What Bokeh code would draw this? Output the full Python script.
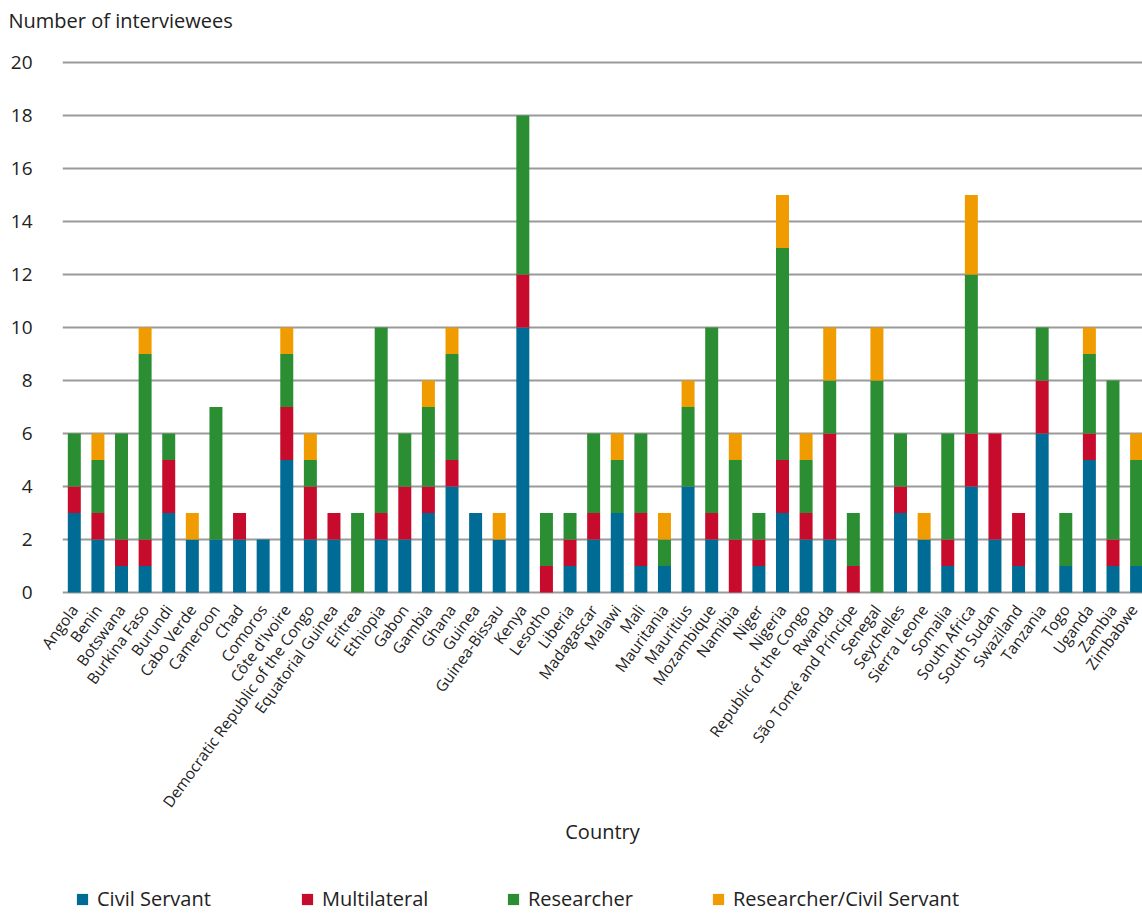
from bokeh.plotting import figure
from bokeh.layouts import column
from bokeh.models import (Range1d, FixedTicker, Legend, LegendItem, Title,
                          SingleIntervalTicker)
from bokeh.embed import file_html
from bokeh.resources import INLINE
import math

countries = [
    "Angola", "Benin", "Botswana", "Burkina Faso", "Burundi", "Cabo Verde",
    "Cameroon", "Chad", "Comoros", "Côte d'Ivoire",
    "Democratic Republic of the Congo", "Equatorial Guinea", "Eritrea",
    "Ethiopia", "Gabon", "Gambia", "Ghana", "Guinea", "Guinea-Bissau",
    "Kenya", "Lesotho", "Liberia", "Madagascar", "Malawi", "Mali",
    "Mauritania", "Mauritius", "Mozambique", "Namibia", "Niger", "Nigeria",
    "Republic of the Congo", "Rwanda", "São Tomé and Príncipe", "Senegal",
    "Seychelles", "Sierra Leone", "Somalia", "South Africa", "South Sudan",
    "Swaziland", "Tanzania", "Togo", "Uganda", "Zambia", "Zimbabwe",
]

civil_servant = [3, 2, 1, 1, 3, 2, 2, 2, 2, 5, 2, 2, 0, 2, 2, 3, 4, 3, 2, 10,
                 0, 1, 2, 3, 1, 1, 4, 2, 0, 1, 3, 2, 2, 0, 0, 3, 2, 1, 4, 2,
                 1, 6, 1, 5, 1, 1]
multilateral = [1, 1, 1, 1, 2, 0, 0, 1, 0, 2, 2, 1, 0, 1, 2, 1, 1, 0, 0, 2,
                1, 1, 1, 0, 2, 0, 0, 1, 2, 1, 2, 1, 4, 1, 0, 1, 0, 1, 2, 4,
                2, 2, 0, 1, 1, 0]
researcher = [2, 2, 4, 7, 1, 0, 5, 0, 0, 2, 1, 0, 3, 7, 2, 3, 4, 0, 0, 6,
              2, 1, 3, 2, 3, 1, 3, 7, 3, 1, 8, 2, 2, 2, 8, 2, 0, 4, 6, 0,
              0, 2, 2, 3, 6, 4]
researcher_civil = [0, 1, 0, 1, 0, 1, 0, 0, 0, 1, 1, 0, 0, 0, 0, 1, 1, 0, 1, 0,
                    0, 0, 0, 1, 0, 1, 1, 0, 1, 0, 2, 1, 2, 0, 2, 0, 1, 0, 3, 0,
                    0, 0, 0, 1, 0, 1]

series = ["Civil Servant", "Multilateral", "Researcher", "Researcher/Civil Servant"]
colors = ["#006b94", "#c60b2d", "#2b8e33", "#f09c00"]
y_title = "Number of interviewees"
x_title = "Country"

FONT = "Open Sans"
TEXT = "#222222"
W = 1142
LEFT = 62  # width of the value-axis gutter; all rows share this frame edge


def blank_strip(height):
    """A plain figure without axes, used for text rows around the chart."""
    f = figure(width=W, height=height, x_range=Range1d(0, 1),
               y_range=Range1d(0, 1), x_axis_type=None, y_axis_type=None,
               output_backend="svg", toolbar_location=None, min_border=0,
               min_border_left=LEFT)
    f.grid.visible = False
    f.outline_line_color = None
    f.background_fill_color = "white"
    f.border_fill_color = "white"
    return f


# header row with the value-axis title
header = blank_strip(44)
header.add_layout(Title(text=y_title, align="left", offset=8 - LEFT,
                        standoff=8, text_font=FONT, text_font_size="20px",
                        text_font_style="normal", text_color=TEXT), "above")

# main chart
positions = [i + 0.5 for i in range(len(countries))]
data = dict(
    x=positions,
    cs=civil_servant,
    ml=multilateral,
    rs=researcher,
    rc=researcher_civil,
)

chart = figure(
    width=W, height=820,
    x_range=Range1d(0, 45.75), y_range=Range1d(-0.15, 20.3),
    output_backend="svg", toolbar_location=None,
    min_border_left=LEFT, min_border_right=0, min_border_top=10,
    min_border_bottom=268,
)
chart.outline_line_color = None
chart.background_fill_color = "white"
chart.border_fill_color = "white"

chart.vbar_stack(
    ["cs", "ml", "rs", "rc"], x="x", width=0.55, source=data,
    color=colors, line_color=None,
)

# y axis
chart.yaxis.ticker = SingleIntervalTicker(interval=2)
chart.yaxis.axis_line_color = None
chart.yaxis.major_tick_line_color = None
chart.yaxis.minor_tick_line_color = None
chart.yaxis.major_label_text_font = FONT
chart.yaxis.major_label_text_font_size = "19px"
chart.yaxis.major_label_text_color = TEXT
chart.yaxis.major_label_standoff = 24

# x axis with country names
chart.xaxis.ticker = FixedTicker(ticks=positions)
chart.xaxis.major_label_overrides = {pos: name for pos, name in zip(positions, countries)}
chart.xaxis.major_label_orientation = math.radians(54)
chart.xaxis.axis_line_color = None
chart.xaxis.major_tick_line_color = None
chart.xaxis.minor_tick_line_color = None
chart.xaxis.major_label_text_font = FONT
chart.xaxis.major_label_text_font_size = "15.5px"
chart.xaxis.major_label_text_color = TEXT
chart.xaxis.major_label_standoff = 4
chart.xaxis.axis_label = x_title
chart.xaxis.axis_label_text_font = FONT
chart.xaxis.axis_label_text_font_size = "20px"
chart.xaxis.axis_label_text_font_style = "normal"
chart.xaxis.axis_label_text_color = TEXT
chart.xaxis.axis_label_standoff = -3

# grid
chart.xgrid.grid_line_color = None
chart.ygrid.ticker = FixedTicker(ticks=list(range(0, 21, 2)))
chart.ygrid.grid_line_color = "#9a9a9a"
chart.ygrid.grid_line_width = 2

# legend strip under the chart (positions measured from the shared frame edge)
key = blank_strip(50)
legend_x = [75, 300, 506, 711]
for name, color, lx in zip(series, colors, legend_x):
    # zero-height swatch: nothing shows in the strip, only the legend entry
    swatch = key.vbar(x=[0.5], top=[0], bottom=[0], width=0.01,
                      color=color, line_color=None)
    key.add_layout(Legend(
        items=[LegendItem(label=name, renderers=[swatch])],
        location=(lx - LEFT, 2), orientation="horizontal",
        label_text_font=FONT, label_text_font_size="20px",
        label_text_color=TEXT,
        glyph_width=14, glyph_height=14, label_standoff=8,
        padding=0, margin=0, border_line_color=None,
        background_fill_alpha=0,
    ))

p = column(header, chart, key, spacing=0)

open("out.html", "w").write(file_html(p, INLINE))
